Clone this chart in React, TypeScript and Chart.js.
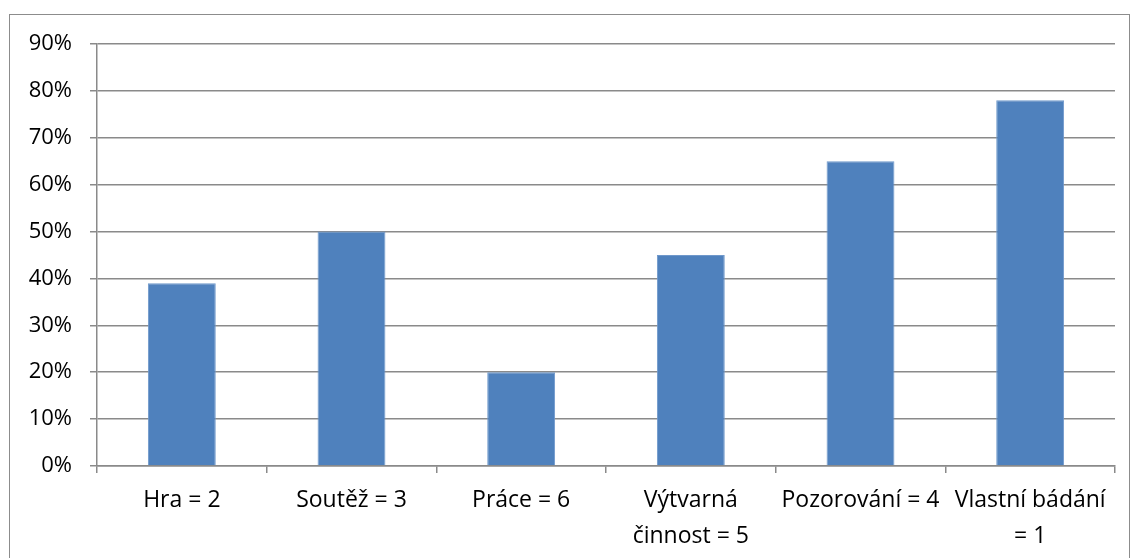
import React, { useEffect, useRef } from "react";
import { Chart, registerables } from "chart.js";

Chart.register(...registerables);

const categories: (string | string[])[] = [
  "Hra = 2",
  "Soutěž = 3",
  "Práce = 6",
  ["Výtvarná", "činnost = 5"],
  "Pozorování = 4",
  ["Vlastní bádání", "= 1"],
];
const values: number[] = [39, 50, 20, 45, 65, 78];
const yMin = 0;
const yMax = 90;
const yStep = 10;

const FONT = "'Open Sans', 'Noto Sans', sans-serif";
const GRID = "#8a8a8a";

export default function App() {
  const ref = useRef<HTMLCanvasElement | null>(null);

  useEffect(() => {
    if (!ref.current) return;
    const chart = new Chart(ref.current, {
      type: "bar",
      data: {
        labels: categories,
        datasets: [
          {
            data: values,
            backgroundColor: "#4F81BD",
            borderColor: "#6f98cb",
            borderWidth: 1,
            barPercentage: 0.4,
            categoryPercentage: 1,
          },
        ],
      },
      options: {
        animation: false,
        responsive: true,
        maintainAspectRatio: false,
        layout: { padding: { left: 0, right: 17, top: 44, bottom: 0 } },
        plugins: { legend: { display: false }, tooltip: { enabled: false } },
        scales: {
          x: {
            grid: {
              display: true,
              drawOnChartArea: false,
              drawTicks: true,
              tickLength: 7,
              color: GRID,
              lineWidth: 1.5,
              offset: true,
            },
            border: { display: true, color: GRID, width: 1.5 },
            ticks: {
              autoSkip: false,
              maxRotation: 0,
              minRotation: 0,
              padding: 10,
              color: "#000",
              font: { family: FONT, size: 23, lineHeight: 1.55 },
            },
            afterFit: (scale: any) => {
              scale.height = 92;
            },
          },
          y: {
            min: yMin,
            max: yMax,
            ticks: {
              stepSize: yStep,
              padding: 18,
              color: "#000",
              font: { family: FONT, size: 22 },
              callback: (v: any) => `${v}%`,
            },
            grid: { color: GRID, lineWidth: 1.5, tickLength: 7, drawTicks: true },
            border: { display: true, color: GRID, width: 1.5 },
            afterFit: (scale: any) => {
              scale.width = 97;
            },
          },
        },
      },
    });
    return () => chart.destroy();
  }, []);

  return (
    <div style={{ position: "absolute", left: 0, top: 0, width: 1132, height: 558, overflow: "hidden", background: "#fff" }}>
      <div
        style={{
          position: "absolute",
          left: 9,
          top: 14,
          width: 1121,
          height: 600,
          border: "1px solid #8c8c8c",
          boxSizing: "border-box",
        }}
      />
      <div style={{ position: "absolute", left: 0, top: 0, width: 1132, height: 558 }}>
        <canvas ref={ref} />
      </div>
    </div>
  );
}
